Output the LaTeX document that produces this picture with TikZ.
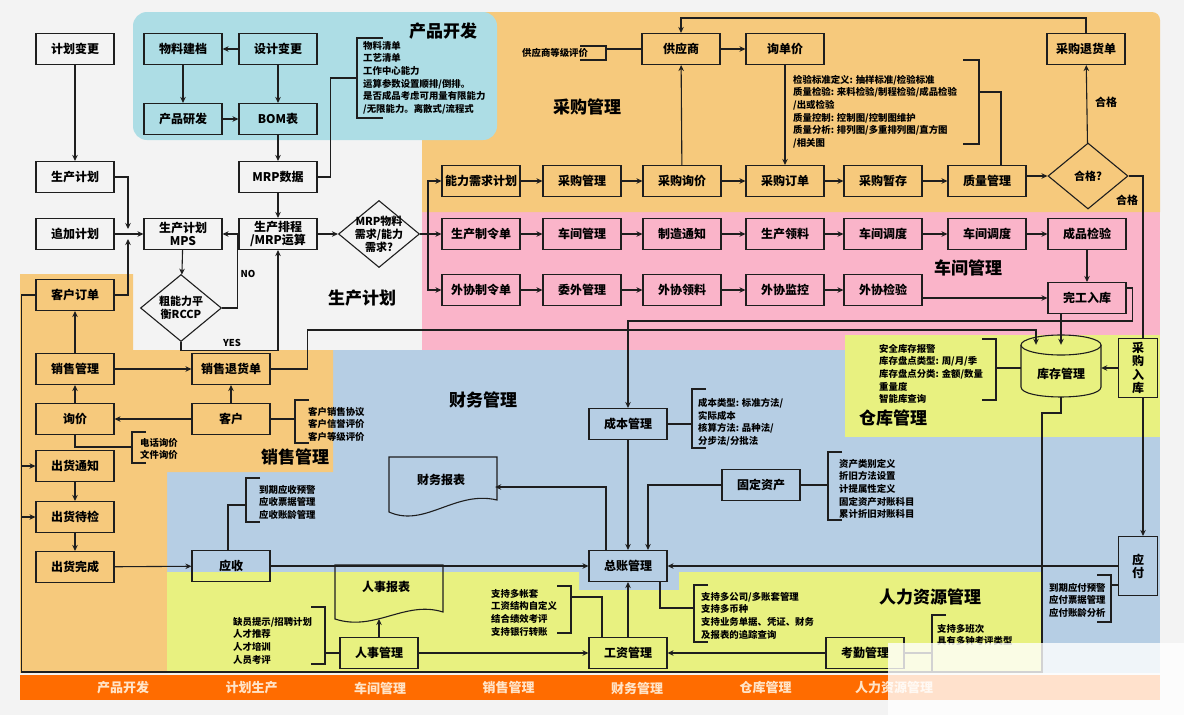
\documentclass[tikz,border=0pt]{standalone}
\usepackage{fontspec}
\setmainfont{Noto Sans CJK SC}
\usetikzlibrary{arrows.meta,shapes.geometric,positioning}

\definecolor{fundo}{RGB}{243,243,243}
\definecolor{ciano}{RGB}{173,221,229}
\definecolor{laranja}{RGB}{246,201,124}
\definecolor{rosa}{RGB}{250,180,201}
\definecolor{azul}{RGB}{182,206,228}
\definecolor{amarelo}{RGB}{232,241,128}
\definecolor{barra}{RGB}{255,108,0}
\definecolor{barratxt}{RGB}{255,228,200}
\definecolor{linha}{RGB}{30,30,30}

\tikzset{
  caixa/.style={draw=linha, line width=1.1pt, minimum width=78pt, minimum height=31pt,
    inner sep=1pt, align=center, font=\bfseries\fontsize{12}{13}\selectfont},
  losango/.style={draw=linha, line width=1.1pt, diamond, minimum width=81pt,
    minimum height=67pt, inner sep=0pt},
  dtexto/.style={inner sep=0pt, align=center, font=\bfseries\fontsize{11}{13}\selectfont},
  nota/.style={anchor=north west, inner sep=0pt, align=left,
    font=\bfseries\fontsize{9.4}{12.6}\selectfont},
  titulo/.style={inner sep=0pt, font=\bfseries\fontsize{17}{19}\selectfont},
  rotulo/.style={inner sep=0pt, font=\bfseries\fontsize{9.5}{11}\selectfont},
  barratexto/.style={inner sep=0pt, text=barratxt, font=\bfseries\fontsize{13}{15}\selectfont},
  fluxo/.style={-{Stealth[length=6pt,width=5.5pt]}, draw=linha, line width=1.1pt},
  fio/.style={draw=linha, line width=1.1pt},
}

\begin{document}
\begin{tikzpicture}[x=1pt,y=-1pt]
  \useasboundingbox (0,0) rectangle (1184,715);

  % fundos
  \fill[fundo] (0,0) rectangle (1184,715);
  \fill[azul] (167,350) rectangle (1160,673);
  \fill[laranja] (20,274) -- (133,274) -- (133,350) -- (333,350) -- (333,472)
    -- (167,472) -- (167,673) -- (20,673) -- cycle;
  \fill[amarelo] (167,572) -- (579,572) -- (579,590) -- (679,590) -- (679,572)
    -- (1042,572) -- (1042,673) -- (167,673) -- cycle;
  \fill[rosa] (422,212) rectangle (1160,350);
  \fill[amarelo] (845,335) rectangle (1160,437);
  \fill[laranja] (422,212) -- (422,12) [rounded corners=8pt] -- (1160,12)
    [sharp corners] -- (1160,212) -- cycle;
  \fill[ciano,rounded corners=14pt] (133,12) rectangle (497,140);
  \fill[barra] (20,675) rectangle (1160,700);

  % titulos
  \node[titulo] (TPROD) at (443,31) {产品开发};
  \node[titulo] (TPURC) at (587,107) {采购管理};
  \node[titulo] (TPLAN) at (362,298) {生产计划};
  \node[titulo] (TSHOP) at (968,268) {车间管理};
  \node[titulo] (TSTOK) at (893,418) {仓库管理};
  \node[titulo] (TSALE) at (295,457) {销售管理};
  \node[titulo] (TFIN) at (483,400) {财务管理};
  \node[titulo] (THR) at (930,597) {人力资源管理};

  % produto e plano
  \node[caixa] (PCHG) at (75,49) {计划变更};
  \node[caixa] (MATF) at (183,49) {物料建档};
  \node[caixa] (DCHG) at (278,49) {设计变更};
  \node[caixa] (PDEV) at (183,119) {产品研发};
  \node[caixa] (BOM) at (278,119) {BOM表};
  \node[caixa] (MRPD) at (278,177) {MRP数据};
  \node[caixa] (PPLAN) at (75,177) {生产计划};
  \node[caixa] (ADDP) at (75,234) {追加计划};
  \node[caixa] (MPS) at (183,234) {生产计划\\MPS};
  \node[caixa] (SCHED) at (278,234) {生产排程\\/MRP运算};
  \node[losango, label={[dtexto]center:{MRP物料\\需求/能力\\需求?}}] (MRPQ) at (379,234) {};
  \node[losango, label={[dtexto]center:{粗能力平\\衡RCCP}}] (RCCP) at (181,308) {};
  \node[rotulo] (LNO) at (248,274) {NO};
  \node[rotulo] (LYES) at (232,343) {YES};

  % compras
  \node[caixa] (SUPP) at (681,49) {供应商};
  \node[caixa] (QUOTE) at (785,49) {询单价};
  \node[caixa] (RET) at (1086,49) {采购退货单};
  \node[caixa] (CAP) at (481,181) {能力需求计划};
  \node[caixa] (PURM) at (582,181) {采购管理};
  \node[caixa] (PINQ) at (682,181) {采购询价};
  \node[caixa] (PORD) at (785,181) {采购订单};
  \node[caixa] (PTMP) at (883,181) {采购暂存};
  \node[caixa] (QUAL) at (987,181) {质量管理};
  \node[losango, minimum width=80pt, minimum height=66pt,
    label={[dtexto]center:合格?}] (OKQ) at (1088,176) {};
  \node[rotulo, font=\bfseries\fontsize{11}{13}\selectfont] (LOK1) at (1106,102) {合格};
  \node[rotulo, font=\bfseries\fontsize{11}{13}\selectfont] (LOK2) at (1127,200) {合格};

  % oficina
  \node[caixa] (MORD) at (481,234) {生产制令单};
  \node[caixa] (WSM) at (582,234) {车间管理};
  \node[caixa] (MNOT) at (682,234) {制造通知};
  \node[caixa] (MPICK) at (785,234) {生产领料};
  \node[caixa] (WDIS1) at (883,234) {车间调度};
  \node[caixa] (WDIS2) at (987,234) {车间调度};
  \node[caixa] (FQC) at (1087,234) {成品检验};
  \node[caixa] (OORD) at (481,290) {外协制令单};
  \node[caixa] (OUTM) at (582,290) {委外管理};
  \node[caixa] (OPICK) at (682,290) {外协领料};
  \node[caixa] (OMON) at (785,290) {外协监控};
  \node[caixa] (OQC) at (883,290) {外协检验};
  \node[caixa] (DONE) at (1087,298) {完工入库};

  % armazem
  \node[minimum width=80pt, minimum height=62pt, inner sep=0pt,
    font=\bfseries\fontsize{12}{13}\selectfont] (STOCK) at (1061,366) {};
  \draw[fio, fill=amarelo] (1021,345) -- (1021,387) .. controls (1021,400.3) and (1101,400.3) .. (1101,387)
    -- (1101,345);
  \draw[fio, fill=amarelo] (1061,345) ellipse [x radius=40pt, y radius=10pt];
  \node[inner sep=0pt, font=\bfseries\fontsize{12}{13}\selectfont] (STOCKT) at (1061,374) {库存管理};
  \node[caixa, minimum width=39pt, minimum height=59pt, fill=amarelo,
    font=\bfseries\fontsize{12}{13.5}\selectfont] (PIN) at (1138,368) {采\\购\\入\\库};

  % vendas
  \node[caixa] (CORD) at (75,295) {客户订单};
  \node[caixa] (SALM) at (75,369) {销售管理};
  \node[caixa] (INQ) at (75,419) {询价};
  \node[caixa] (SRET) at (231,369) {销售退货单};
  \node[caixa] (CUST) at (231,419) {客户};
  \node[caixa] (SHN) at (75,466) {出货通知};
  \node[caixa] (SHC) at (75,517) {出货待检};
  \node[caixa] (SHD) at (75,567) {出货完成};

  % financas
  \node[caixa] (AR) at (231,566) {应收};
  \node[caixa] (GL) at (628,566) {总账管理};
  \node[caixa] (COST) at (628,424) {成本管理};
  \node[caixa] (FA) at (761,485) {固定资产};
  \node[caixa, minimum width=39pt, minimum height=59pt] (AP) at (1138,566) {应\\付};
  \node[minimum width=108pt, minimum height=46pt, inner sep=0pt,
    font=\bfseries\fontsize{12}{13}\selectfont] (FREP) at (441,480) {财务报表};
  \draw[fio] (389,457) -- (497,457) -- (497,500) .. controls (455,490) and (425,528) .. (389,512) -- cycle;

  % recursos humanos
  \node[minimum width=108pt, minimum height=40pt, inner sep=0pt,
    font=\bfseries\fontsize{12}{13}\selectfont] (HREP) at (386,587) {人事报表};
  \draw[fio] (335,565) -- (443,565) -- (443,612) .. controls (405,600) and (375,632) .. (335,619) -- cycle;
  \coordinate (HREPB) at (379,619);
  \node[caixa] (HRM) at (379,653) {人事管理};
  \node[caixa] (PAY) at (628,653) {工资管理};
  \node[caixa] (ATT) at (865,653) {考勤管理};

  % notas
  \node[nota] (NBOM) at (363,41) {物料清单\\工艺清单\\工作中心能力\\运算参数设置顺排/倒排。\\是否成品考虑可用量有限能力\\/无限能力。离散式/流程式};
  \node[nota] (NSUP) at (522,48) {供应商等级评价};
  \node[nota] (NQC) at (793,75) {检验标准定义: 抽样标准/检验标准\\质量检验: 来料检验/制程检验/成品检验\\/出或检验\\质量控制: 控制图/控制图维护\\质量分析: 排列图/多重排列图/直方图\\/相关图};
  \node[nota] (NSTK) at (879,344) {安全库存报警\\库存盘点类型: 周/月/季\\库存盘点分类: 金额/数量\\重量度\\智能库查询};
  \node[nota] (NCOST) at (698,398) {成本类型: 标准方法/\\实际成本\\核算方法: 品种法/\\分步法/分批法};
  \node[nota] (NFA) at (839,459) {资产类别定义\\折旧方法设置\\计提属性定义\\固定资产对账科目\\累计折旧对账科目};
  \node[nota] (NAR) at (259,485) {到期应收预警\\应收票据管理\\应收账龄管理};
  \node[nota] (NINQ) at (140,438) {电话询价\\文件询价};
  \node[nota] (NCUST) at (308,407) {客户销售协议\\客户信誉评价\\客户等级评价};
  \node[nota] (NHR) at (233,617) {缺员提示/招聘计划\\人才推荐\\人才培训\\人员考评};
  \node[nota] (NPAY) at (491,589) {支持多帐套\\工资结构自定义\\结合绩效考评\\支持银行转账};
  \node[nota] (NGL) at (701,592) {支持多公司/多账套管理\\支持多币种\\支持业务单据、凭证、财务\\及报表的追踪查询};
  \node[nota] (NATT) at (937,624) {支持多班次\\具有多钟考评类型};
  \node[nota] (NAP) at (1049,583) {到期应付预警\\应付票据管理\\应付账龄分析};

  % colchetes: x / topo / base / aba
  \foreach \x/\a/\b/\t in {357/38/118/26, 606/46/60/-26, 979/60/144/-16, 996/339/400/-14,
      692/389/448/14, 828/452/520/14, 246/478/522/14, 132/432/463/14, 295/400/443/14,
      325/607/664/-14, 571/586/633/-14, 694/585/642/14, 932/615/672/14, 1111/575/622/-14}
    \draw[fio] (\x,\a) ++(\t,0) -- (\x,\a) -- (\x,\b) -- ++(\t,0);

  \coordinate (BRBOM) at (357,78);
  \coordinate (BRSUP) at (606,49);
  \coordinate (BRQC) at (979,92);
  \coordinate (BRSTK) at (996,368);
  \coordinate (BRCOST) at (692,424);
  \coordinate (BRFA) at (828,485);
  \coordinate (BRAR) at (246,505);
  \coordinate (BRINQ) at (132,447);
  \coordinate (BRCUST) at (295,419);
  \coordinate (BRHR) at (325,653);
  \coordinate (BRPAY) at (571,597);
  \coordinate (BRGL) at (694,608);
  \coordinate (BRATT) at (932,653);
  \coordinate (BRAP) at (1111,585);
  \coordinate (JUNC) at (128,234);
  \coordinate (SPLIT) at (428,234);
  \coordinate (BASE) at (1042,672);

  % ligacoes produto / plano
  \draw[fluxo] (DCHG) -- (MATF);
  \draw[fluxo] (MATF) -- (PDEV);
  \draw[fluxo] (DCHG) -- (BOM);
  \draw[fluxo] (PDEV) -- (BOM);
  \draw[fluxo] (BOM) -- (MRPD);
  \draw[fluxo] (MRPD) -- (SCHED);
  \draw[fluxo] (PCHG) -- (PPLAN);
  \draw[fluxo] (PPLAN.east) -| ([yshift=5pt]JUNC);
  \draw[fluxo] (CORD.east) -| ([yshift=-5pt]JUNC);
  \draw[fluxo] (ADDP) -- (MPS);
  \draw[fluxo] (MPS) -- (RCCP);
  \draw[fluxo] (RCCP.east) -- ++(15,0) |- (MPS.east);
  \draw[fluxo] (RCCP.south) -- ++(0,8) -| (SCHED.south);
  \draw[fluxo] (SCHED) -- (MRPQ);
  \draw[fluxo] (MRPQ) -- (MORD);
  \draw[fluxo] (SPLIT) |- (CAP.west);
  \draw[fluxo] (SPLIT) |- (OORD.west);
  \draw[fio] (MRPD.east) -- ++(13,0) |- (BRBOM);

  % ligacoes compras
  \draw[fio] (SUPP.west) -- (SUPP.west -| BRSUP);
  \draw[fluxo] (SUPP) -- (QUOTE);
  \draw[fluxo] (QUOTE) -- (PORD);
  \draw[fluxo] (PINQ) -- (SUPP);
  \draw[fluxo] (CAP) -- (PURM);
  \draw[fluxo] (PURM) -- (PINQ);
  \draw[fluxo] (PINQ) -- (PORD);
  \draw[fluxo] (PORD) -- (PTMP);
  \draw[fluxo] (PTMP) -- (QUAL);
  \draw[fluxo] (QUAL.east |- OKQ.west) -- (OKQ.west);
  \draw[fio] (BRQC) -| ([xshift=14pt]QUAL.north);
  \draw[fluxo] (OKQ) -- (RET);
  \draw[fluxo] (RET.north) -- ++(0,-15) -| (SUPP.north);
  \draw[fio] (OKQ.east) -| ([xshift=5pt]PIN.north);
  \draw[fluxo] ([xshift=5pt]PIN.south) -- ([xshift=5pt]AP.north);

  % ligacoes oficina
  \draw[fluxo] (MORD) -- (WSM);
  \draw[fluxo] (WSM) -- (MNOT);
  \draw[fluxo] (MNOT) -- (MPICK);
  \draw[fluxo] (MPICK) -- (WDIS1);
  \draw[fluxo] (WDIS1) -- (WDIS2);
  \draw[fluxo] (WDIS2) -- (FQC);
  \draw[fluxo] (OORD) -- (OUTM);
  \draw[fluxo] (OUTM) -- (OPICK);
  \draw[fluxo] (OPICK) -- (OMON);
  \draw[fluxo] (OMON) -- (OQC);
  \draw[fluxo] (OQC.east |- DONE.west) -- (DONE.west);
  \draw[fluxo] (FQC) -- (DONE);
  \draw[fluxo] (DONE.south -| STOCK.north) -- ([yshift=-10pt]STOCK.north);
  \draw[fluxo] ([yshift=10pt]DONE.east) -- ++(6,0) -- ++(0,33) -| (COST.north);

  % ligacoes armazem
  \draw[fluxo] (PIN.west) -- (PIN.west -| STOCK.east);
  \draw[fio] (BRSTK) -- (BRSTK -| STOCK.west);
  \draw[fluxo] (SRET.east) -- ++(37,0) -- ++(0,-39) -| ([xshift=-25pt,yshift=-10pt]STOCK.north);
  \draw[fio] (CORD.west) -- ++(-14,0) |- (BASE) -- ++(0,-259) -| (STOCK.south);

  % ligacoes vendas
  \draw[fluxo] (SALM) -- (CORD);
  \draw[fluxo] (INQ) -- (SALM);
  \draw[fluxo] (SALM) -- (SRET);
  \draw[fluxo] (CUST) -- (SRET);
  \draw[fluxo] (CUST) -- (INQ);
  \draw[fio] (INQ.south) |- (BRINQ);
  \draw[fio] (CUST.east) -- (CUST.east -| BRCUST);
  \draw[fluxo] ([xshift=-14pt]SHN.west) -- (SHN.west);
  \draw[fluxo] ([xshift=-14pt]SHC.west) -- (SHC.west);
  \draw[fluxo] (SHN) -- (SHC);
  \draw[fluxo] (SHC) -- (SHD);
  \draw[fluxo] (SHD) -- (AR);

  % ligacoes financas
  \draw[fluxo] (AR) -- (GL);
  \draw[fio] ([xshift=-3pt]AR.north) |- (BRAR);
  \draw[fluxo] (COST) -- (GL);
  \draw[fio] (COST.east) -- (COST.east -| BRCOST);
  \draw[fluxo] (FA.west) -| ([xshift=20pt]GL.north);
  \draw[fio] (FA.east) -- (FA.east -| BRFA);
  \draw[fluxo] ([xshift=-22pt]GL.north) |- ([yshift=-7pt]FREP.east);
  \draw[fluxo] (AP) -- (GL);
  \draw[fio] (BRAP) -- (BRAP -| AP.west);
  \draw[fio] ([xshift=32pt]GL.south) |- (BRGL);

  % ligacoes recursos humanos
  \draw[fluxo] (HRM.north) -- (HREPB);
  \draw[fio] (HRM.west) -- (HRM.west -| BRHR);
  \draw[fluxo] (HRM) -- (PAY);
  \draw[fluxo] (PAY) -- (GL);
  \draw[fio] (BRPAY) -| ([xshift=-26pt]PAY.north);
  \draw[fluxo] (ATT) -- (PAY);
  \draw[fio] (ATT.east) -- (ATT.east -| BRATT);

  % barra inferior
  \foreach \nome [count=\i] in {产品开发,计划生产,车间管理,销售管理,财务管理,仓库管理,人力资源管理}
    \node[barratexto] (BAR\i) at ({123+128.5*(\i-1)},688) {\nome};

  \fill[white, opacity=0.8] (888,643) rectangle (1184,715);
\end{tikzpicture}
\end{document}
